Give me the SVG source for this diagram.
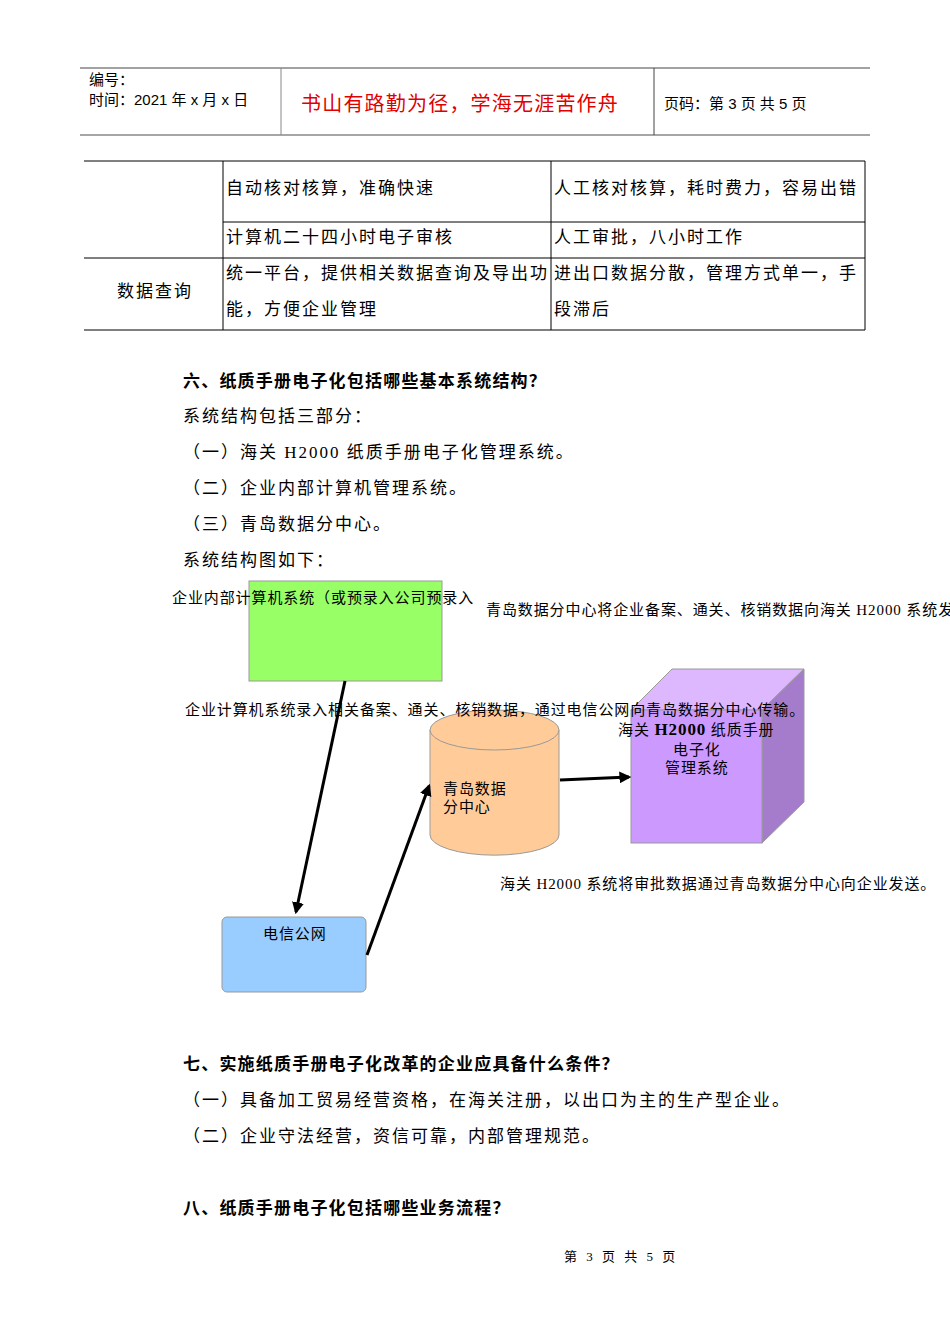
<svg xmlns="http://www.w3.org/2000/svg" width="950" height="1344" viewBox="0 0 950 1344">
<style>
.s{font-family:"Liberation Serif","Noto Sans CJK SC",serif;font-size:17px;letter-spacing:2px;fill:#000}
.t{font-family:"Liberation Serif","Noto Sans CJK SC",serif;font-size:15px;letter-spacing:0.9px;fill:#000}
.h{font-family:"Liberation Sans","Noto Sans CJK SC",sans-serif;font-size:15px;fill:#000}
.b{font-family:"Liberation Serif","Noto Sans CJK SC",serif;font-size:17px;font-weight:bold;letter-spacing:1.2px;fill:#000}
.g{stroke:#000;stroke-width:1;fill:none}
.c{stroke:#000;stroke-width:3;fill:none}
</style>
<defs><marker id="a" viewBox="0 0 10 10" refX="8" refY="5" markerWidth="4" markerHeight="4" orient="auto"><path d="M0,0L10,5L0,10z" fill="#000"/></marker></defs>
<rect width="950" height="1344" fill="#fff"/>
<g id="header">
<line x1="80" y1="68" x2="870" y2="68" stroke="#444"/>
<line x1="80" y1="135" x2="870" y2="135" stroke="#888" stroke-width="1.5"/>
<line x1="281" y1="68" x2="281" y2="135" stroke="#888"/>
<line x1="654" y1="68" x2="654" y2="135" stroke="#444"/>
<text x="89" y="85" class="h">编号：</text>
<text x="89" y="105" class="h">时间：2021 年 x 月 x 日</text>
<text x="301" y="111" font-family="Liberation Sans,Noto Sans CJK SC,sans-serif" font-size="20" letter-spacing="1.2" fill="#e00000">书山有路勤为径，学海无涯苦作舟</text>
<text x="664" y="109" class="h">页码：第 3 页  共 5 页</text>
</g>
<g id="table">
<path class="g" d="M84,161H865V330H84M223,161V330M551,161V330M223,222H865M84,258H865"/>
<text x="226" y="194" class="s">自动核对核算，准确快速</text>
<text x="554" y="194" class="s">人工核对核算，耗时费力，容易出错</text>
<text x="226" y="243" class="s">计算机二十四小时电子审核</text>
<text x="554" y="243" class="s">人工审批，八小时工作</text>
<text x="117" y="297" class="s">数据查询</text>
<text x="226" y="279" class="s">统一平台，提供相关数据查询及导出功</text>
<text x="226" y="315" class="s">能，方便企业管理</text>
<text x="554" y="279" class="s">进出口数据分散，管理方式单一，手</text>
<text x="554" y="315" class="s">段滞后</text>
</g>
<g id="sec6">
<text x="183" y="387" class="b">六、纸质手册电子化包括哪些基本系统结构？</text>
<text x="183" y="422" class="s">系统结构包括三部分：</text>
<text x="183" y="458" class="s">（一）海关 H2000 纸质手册电子化管理系统。</text>
<text x="183" y="494" class="s">（二）企业内部计算机管理系统。</text>
<text x="183" y="530" class="s">（三）青岛数据分中心。</text>
<text x="183" y="566" class="s">系统结构图如下：</text>
</g>
<g id="n-enterprise"><rect x="249" y="581" width="193" height="100" fill="#99ff66" stroke="#999"/></g>
<g id="n-telecom"><rect x="222" y="917" width="144" height="75" rx="5" fill="#99ccff" stroke="#999"/><text x="263" y="939" class="t">电信公网</text></g>
<g id="n-qingdao">
<path d="M430,730V835A64,20 0 0 0 559,835V730" fill="#ffcc99" stroke="#999"/>
<ellipse cx="494.5" cy="730" rx="64.5" ry="20" fill="#ffcc99" stroke="#999"/>
<text x="443" y="794" class="t">青岛数据</text><text x="443" y="812" class="t">分中心</text>
</g>
<g id="n-h2000">
<path d="M631,710L672,669H804L762,710z" fill="#ddb8ff" stroke="#999"/>
<path d="M762,710L804,669V802L762,843z" fill="#a57ccc" stroke="#999"/>
<rect x="631" y="710" width="131" height="133" fill="#cc99ff" stroke="#999"/>
<text x="618" y="735" class="t">海关 <tspan font-weight="bold" font-size="17">H2000</tspan> 纸质手册</text>
<text x="673" y="755" class="t">电子化</text>
<text x="665" y="773" class="t">管理系统</text>
</g>
<g id="connectors">
<line x1="345" y1="681" x2="296" y2="912" class="c" marker-end="url(#a)"/>
<line x1="367" y1="955" x2="429" y2="786" class="c" marker-end="url(#a)"/>
<line x1="560" y1="780" x2="629" y2="777" class="c" marker-end="url(#a)"/>
</g>
<g id="labels">
<text x="172" y="603" class="t">企业内部计算机系统（或预录入公司预录入</text>
<text x="486" y="615" class="t">青岛数据分中心将企业备案、通关、核销数据向海关 H2000 系统发</text>
<text x="185" y="715" class="t">企业计算机系统录入相关备案、通关、核销数据，通过电信公网向青岛数据分中心传输。</text>
<text x="500" y="889" class="t">海关 H2000 系统将审批数据通过青岛数据分中心向企业发送。</text>
</g>
<g id="sec7">
<text x="183" y="1070" class="b">七、实施纸质手册电子化改革的企业应具备什么条件？</text>
<text x="183" y="1106" class="s">（一）具备加工贸易经营资格，在海关注册，以出口为主的生产型企业。</text>
<text x="183" y="1142" class="s">（二）企业守法经营，资信可靠，内部管理规范。</text>
<text x="183" y="1214" class="b">八、纸质手册电子化包括哪些业务流程？</text>
<text x="564" y="1261" font-family="Liberation Serif,Noto Sans CJK SC,serif" font-size="13" letter-spacing="3">第 3 页 共 5 页</text>
</g>
</svg>
